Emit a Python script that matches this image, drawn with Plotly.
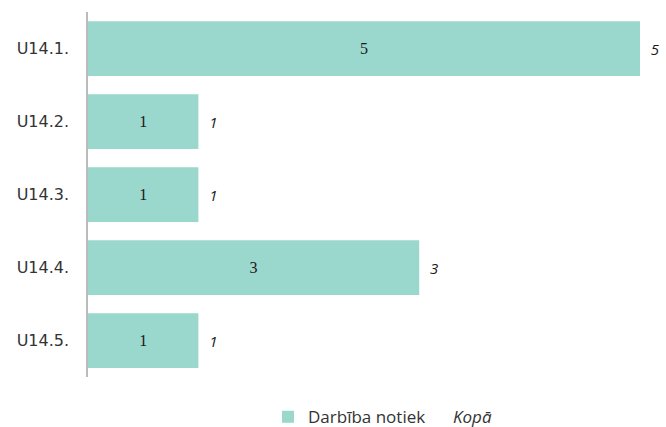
import plotly.graph_objects as go

categories = ["U14.1.", "U14.2.", "U14.3.", "U14.4.", "U14.5."]
values = [5, 1, 1, 3, 1]
totals = [5, 1, 1, 3, 1]

fig = go.Figure()
fig.add_trace(go.Bar(
    y=categories, x=values, orientation="h", name="Darbība notiek",
    marker=dict(color="#9AD7CC", line=dict(width=0)),
    text=[str(v) for v in values], textposition="inside", insidetextanchor="middle",
    textfont=dict(family="Liberation Serif", size=16, color="#1a1a1a"),
    hoverinfo="skip",
))
fig.add_trace(go.Bar(
    y=categories, x=totals, orientation="h", name="<i>Kopā</i>",
    marker=dict(color="rgba(0,0,0,0)", line=dict(width=0)),
    text=["\u00a0\u00a0<i>%d</i>" % v for v in totals], textposition="outside",
    textfont=dict(family="Open Sans", size=15, color="#1a1a1a"),
    cliponaxis=False, hoverinfo="skip",
))
fig.update_layout(
    width=666, height=427,
    margin=dict(l=88, r=26, t=12, b=50, autoexpand=False),
    barmode="overlay", bargap=0.25,
    plot_bgcolor="white", paper_bgcolor="white",
    font=dict(family="Open Sans", size=15, color="#333"),
    showlegend=True,
    legend=dict(orientation="h", x=0.3261, xanchor="left", y=-0.11, yanchor="middle",
                font=dict(size=17, color="#333"), itemwidth=30, entrywidth=100),
    xaxis=dict(range=[0, 5], visible=False, showgrid=False),
    yaxis=dict(autorange="reversed", showline=True, linecolor="#BBBBBB", linewidth=1.5,
               automargin=False, ticks="", ticklabelstandoff=14,
               tickfont=dict(family="DejaVu Sans", size=16, color="#333")),
)
fig.write_html("out.html", config={"displayModeBar": False},
               post_script="document.body.style.margin='0';document.body.style.overflow='hidden';")
